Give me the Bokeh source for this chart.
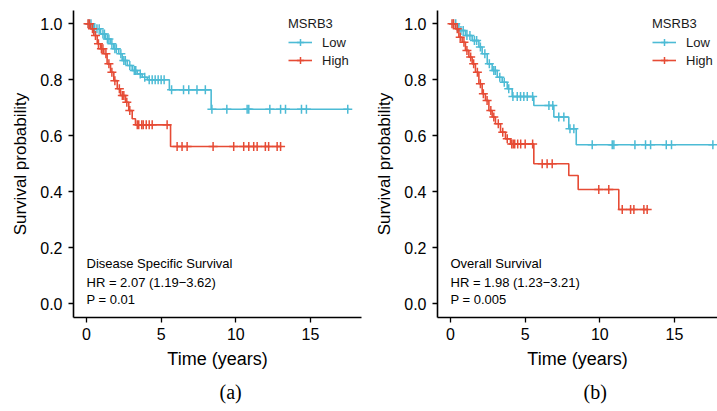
import numpy as np
from bokeh.plotting import figure
from bokeh.models import Range1d, FixedTicker, PrintfTickFormatter, Label, Legend, LegendItem, Title
from bokeh.layouts import row
from bokeh.embed import file_html
from bokeh.resources import INLINE

LOW_COLOR = "#4DBBD5"
HIGH_COLOR = "#E64B35"
FONT = "Liberation Sans"

# ---------------- Panel (a): Disease Specific Survival ----------------
dss_low_t = [0, 0.49, 0.94, 1.27, 1.61, 1.83, 2.16, 2.39, 2.73, 3.06, 3.40, 3.73, 4.07, 5.55, 8.35]
dss_low_s = [1.0, 0.982, 0.964, 0.946, 0.929, 0.911, 0.893, 0.869, 0.851, 0.833, 0.821, 0.809, 0.800, 0.764, 0.695]
dss_low_end = 17.6
dss_low_cens = [0.15, 0.3, 0.55, 0.7, 0.85, 1.1, 1.2, 1.4, 1.5, 1.7, 1.9, 2.0, 2.3, 2.5, 2.6, 2.9,
                3.2, 3.3, 3.6, 3.9, 4.2, 4.4, 4.6, 4.8, 5.0, 5.2, 5.7, 6.5, 6.85, 7.4, 7.96, 8.4,
                9.4, 10.76, 10.87, 12.28, 13.0, 13.33, 14.4, 14.73, 17.5]

dss_high_t = [0, 0.27, 0.49, 0.72, 0.94, 1.16, 1.38, 1.61, 1.83, 2.06, 2.28, 2.61, 2.83, 3.06, 3.28, 5.63]
dss_high_s = [1.0, 0.982, 0.958, 0.929, 0.911, 0.893, 0.857, 0.827, 0.797, 0.768, 0.744, 0.720, 0.690, 0.661, 0.639, 0.562]
dss_high_end = 13.0
dss_high_cens = [0.1, 0.2, 0.4, 0.6, 0.8, 1.0, 1.1, 1.3, 1.5, 1.7, 1.9, 2.2, 2.4, 2.5, 2.7, 2.9,
                 3.4, 3.5, 3.7, 3.8, 4.0, 4.2, 4.4, 5.4, 6.07, 6.4, 6.74, 8.48, 9.86, 10.53, 10.87,
                 11.2, 11.43, 11.98, 12.2, 12.77, 13.0]

dss_text = ["Disease Specific Survival", "HR = 2.07 (1.19\u22123.62)", "P = 0.01"]

# ---------------- Panel (b): Overall Survival ----------------
os_low_t = [0, 0.56, 1.0, 1.45, 1.9, 2.12, 2.46, 2.79, 3.13, 3.46, 3.80, 4.13, 5.58, 6.92, 7.92, 8.42]
os_low_s = [1.0, 0.976, 0.958, 0.940, 0.917, 0.893, 0.857, 0.833, 0.809, 0.791, 0.768, 0.740, 0.708, 0.667, 0.625, 0.568]
os_low_end = 17.64
os_low_cens = [0.2, 0.35, 0.7, 0.85, 1.1, 1.3, 1.6, 1.75, 2.0, 2.3, 2.6, 2.9, 3.0, 3.3, 3.6, 3.9,
               4.18, 4.47, 4.69, 4.91, 5.14, 5.5, 6.59, 6.85, 7.25, 7.59, 8.0, 8.26, 9.49, 10.83,
               10.94, 12.35, 13.06, 13.4, 14.45, 14.8, 17.57]

os_high_t = [0, 0.33, 0.56, 0.78, 1.0, 1.23, 1.45, 1.67, 1.9, 2.12, 2.34, 2.57, 2.79, 3.01, 3.35,
             3.68, 4.02, 5.58, 7.92, 8.55, 11.27]
os_high_s = [1.0, 0.982, 0.952, 0.934, 0.905, 0.881, 0.857, 0.827, 0.786, 0.750, 0.726, 0.690, 0.667,
             0.643, 0.613, 0.589, 0.571, 0.500, 0.458, 0.408, 0.337]
os_high_end = 13.17
os_high_cens = [0.1, 0.2, 0.45, 0.65, 0.9, 1.1, 1.35, 1.55, 1.8, 2.0, 2.2, 2.45, 2.7, 2.9, 3.2, 3.5,
                3.8, 4.1, 4.2, 4.3, 4.5, 4.7, 5.0, 5.5, 6.14, 6.47, 6.81, 9.93, 10.6, 11.5, 12.06,
                12.28, 12.95, 13.17]

os_text = ["Overall Survival", "HR = 1.98 (1.23\u22123.21)", "P = 0.005"]

x_ticks = [0, 5, 10, 15]
y_ticks = [0.0, 0.2, 0.4, 0.6, 0.8, 1.0]
group_labels = ["Low", "High"]
legend_title = "MSRB3"


def surv_at(times, surv, t):
    idx = np.searchsorted(np.asarray(times), np.asarray(t), side="right") - 1
    return np.asarray(surv)[idx]


def make_panel(width, border_left, border_right, x_end, curves, texts, caption):
    p = figure(width=width, height=411, output_backend="svg", toolbar_location=None,
               x_range=Range1d(-0.871, x_end), y_range=Range1d(-0.049, 1.0475),
               min_border_left=border_left, min_border_right=border_right,
               min_border_top=10, min_border_bottom=94)
    p.outline_line_color = None
    p.grid.visible = False
    p.background_fill_color = "white"
    p.border_fill_color = "white"

    items = []
    for (t, s, end, cens, color, lab) in curves:
        xs = list(t) + [end]
        ys = list(s) + [s[-1]]
        ln = p.step(xs, ys, mode="after", line_color=color, line_width=1.6)
        cy = surv_at(t, s, cens)
        sc = p.scatter(cens, cy, marker="cross", size=9, line_color=color, line_width=1.5)
        items.append(LegendItem(label=lab, renderers=[ln, sc]))

    for ax in (p.xaxis[0], p.yaxis[0]):
        ax.axis_line_width = 1.6
        ax.axis_line_color = "black"
        ax.major_tick_line_color = "black"
        ax.major_tick_line_width = 1.3
        ax.major_tick_out = 5
        ax.major_tick_in = 0
        ax.minor_tick_line_color = None
        ax.major_label_text_font = FONT
        ax.major_label_text_font_size = "16px"
        ax.major_label_text_color = "black"
        ax.axis_label_text_font = FONT
        ax.axis_label_text_font_style = "normal"
        ax.axis_label_text_color = "black"

    p.xaxis.axis_label_text_font_size = "18px"
    p.yaxis.axis_label_text_font_size = "17px"
    p.xaxis.ticker = FixedTicker(ticks=x_ticks)
    p.yaxis.ticker = FixedTicker(ticks=y_ticks)
    p.yaxis.formatter = PrintfTickFormatter(format="%.1f")
    p.xaxis.axis_label = "Time (years)"
    p.yaxis.axis_label = "Survival probability"
    p.xaxis.major_label_standoff = 5
    p.yaxis.major_label_standoff = 6
    p.xaxis.axis_label_standoff = 6
    p.yaxis.axis_label_standoff = 7

    for txt, yy in zip(texts, [0.143, 0.077, 0.014]):
        p.add_layout(Label(x=0, y=yy, text=txt, text_font=FONT, text_font_size="13px",
                           text_baseline="middle", text_align="left", text_color="black"))

    p.add_layout(Title(text=caption, text_font="Liberation Serif", text_font_size="20px",
                       text_font_style="normal", text_color="black", align="left",
                       offset=146, standoff=15), "below")

    legend = Legend(items=items, title=legend_title, location=(215, 248),
                    title_text_font=FONT, title_text_font_size="13px", title_text_font_style="normal",
                    title_text_color="#1a1a1a",
                    label_text_font=FONT, label_text_font_size="13px", label_text_color="#1a1a1a",
                    glyph_width=24, glyph_height=18, label_standoff=10, spacing=0,
                    padding=4, margin=0, border_line_color=None, background_fill_alpha=0,
                    title_standoff=2)
    p.add_layout(legend)
    return p


p1 = make_panel(364, 73, 3, 18.42,
                [(dss_low_t, dss_low_s, dss_low_end, dss_low_cens, LOW_COLOR, group_labels[0]),
                 (dss_high_t, dss_high_s, dss_high_end, dss_high_cens, HIGH_COLOR, group_labels[1])],
                dss_text, "(a)")
p2 = make_panel(353, 73, 0, 17.88,
                [(os_low_t, os_low_s, os_low_end, os_low_cens, LOW_COLOR, group_labels[0]),
                 (os_high_t, os_high_s, os_high_end, os_high_cens, HIGH_COLOR, group_labels[1])],
                os_text, "(b)")

layout = row(p1, p2)
open("out.html", "w").write(file_html(layout, INLINE))
